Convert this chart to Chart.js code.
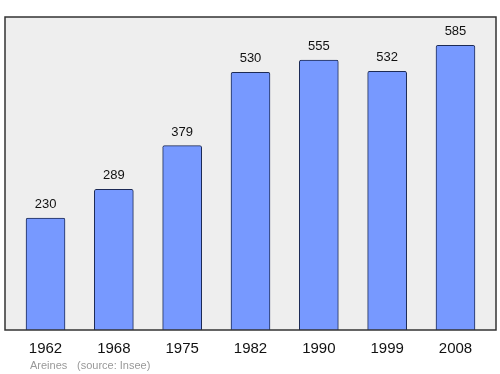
<!DOCTYPE html>
<html>
<head>
<meta charset="utf-8">
<script src="https://cdn.jsdelivr.net/npm/chart.js@4/dist/chart.umd.min.js"></script>
<style>
  html, body { margin: 0; padding: 0; background: #fff; }
  #wrap { width: 500px; height: 374px; }
</style>
</head>
<body>
<div id="wrap"><canvas id="grafico" width="500" height="374"></canvas></div>
<script>
// dados
const anos = ['1962', '1968', '1975', '1982', '1990', '1999', '2008'];
const populacao = [230, 289, 379, 530, 555, 532, 585];
const nomeLocal = 'Areines';
const fonte = '(source: Insee)';

// fundo cinza + moldura + rótulos
const molduraPlugin = {
    id: 'moldura',
    beforeDraw(chart) {
        const { ctx, chartArea: a } = chart;
        ctx.save();
        ctx.fillStyle = '#eeeeee';
        ctx.fillRect(a.left, a.top, a.right - a.left, a.bottom - a.top);
        ctx.restore();
    },
    afterDatasetsDraw(chart) {
        const { ctx, chartArea: a } = chart;
        ctx.save();
        ctx.strokeStyle = '#333333';
        ctx.lineWidth = 1.5;
        ctx.strokeRect(a.left, a.top, a.right - a.left, a.bottom - a.top);

        // valores acima das barras
        const meta = chart.getDatasetMeta(0);
        ctx.fillStyle = '#111';
        ctx.font = '13px "Liberation Sans", Arial, sans-serif';
        ctx.textAlign = 'center';
        ctx.textBaseline = 'alphabetic';
        meta.data.forEach((bar, i) => {
            ctx.fillText(String(populacao[i]), bar.x, bar.y - 10);
        });

        // rodapé
        ctx.fillStyle = '#999999';
        ctx.font = '11px "Liberation Sans", Arial, sans-serif';
        ctx.textAlign = 'left';
        ctx.fillText(nomeLocal, 30, 369);
        ctx.fillText(fonte, 77, 369);
        ctx.restore();
    }
};

const ctx = document.getElementById('grafico').getContext('2d');
new Chart(ctx, {
    type: 'bar',
    data: {
        datasets: [{
            label: 'Population',
            data: populacao.map((v, i) => ({ x: i, y: v })),
            backgroundColor: '#7799ff',
            borderColor: '#1c2a55',
            borderWidth: 1,
            borderRadius: 2,
            borderSkipped: 'bottom',
            barThickness: 39
        }]
    },
    options: {
        responsive: false,
        animation: false,
        layout: { padding: { left: 5, right: 4, top: 17, bottom: 0 } },
        plugins: {
            legend: { display: false },
            tooltip: { enabled: false }
        },
        scales: {
            x: {
                type: 'linear',
                offset: false,
                min: -0.593,
                max: 6.593,
                grid: { display: false, drawTicks: false },
                border: { display: false },
                afterBuildTicks(scale) {
                    scale.ticks = anos.map((a, i) => ({ value: i }));
                },
                afterFit(scale) { scale.height = 44; },
                ticks: {
                    padding: 10,
                    color: '#111',
                    font: { family: '"Liberation Sans", Arial, sans-serif', size: 15 },
                    callback: (v) => anos[v]
                }
            },
            y: {
                display: false,
                min: 0,
                max: 643.5
            }
        }
    },
    plugins: [molduraPlugin]
});
</script>
</body>
</html>
